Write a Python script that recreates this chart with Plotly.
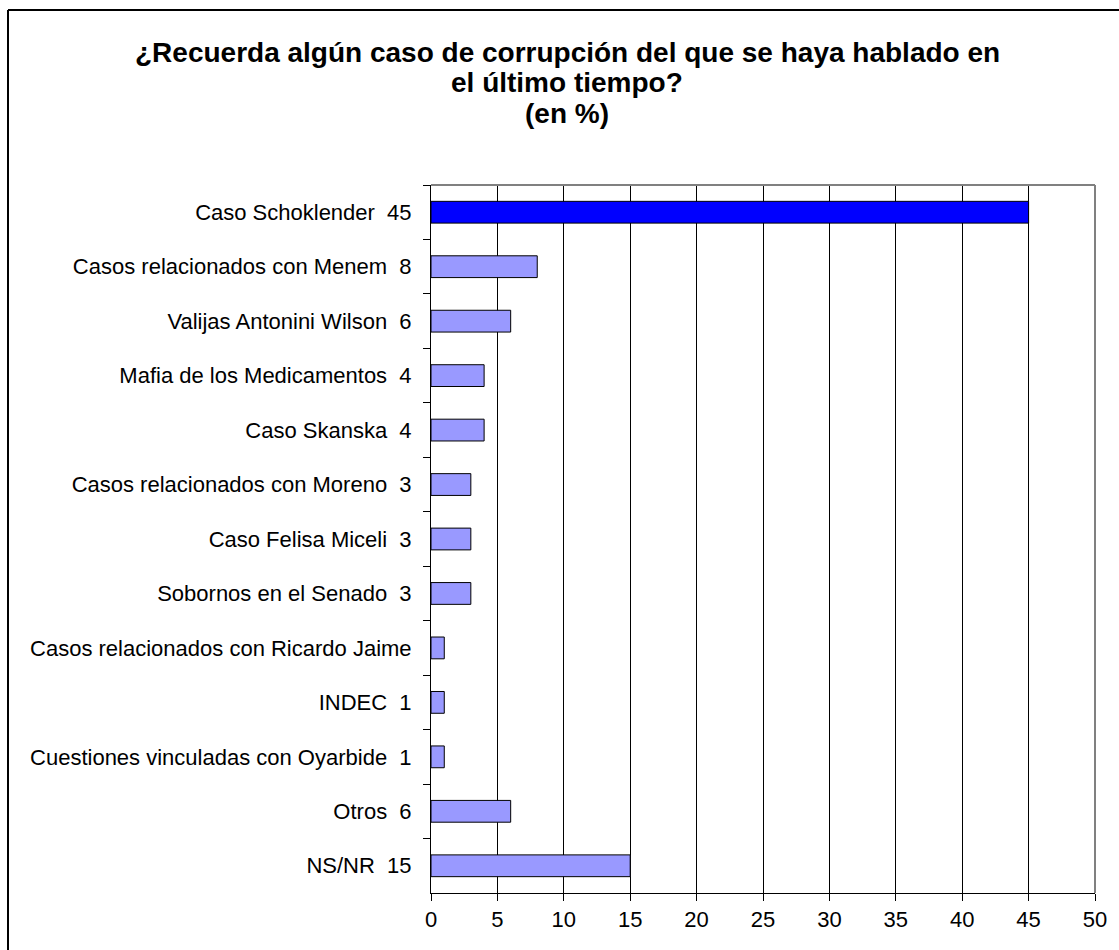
import plotly.graph_objects as go

categorias = [
    "Caso Schoklender  45",
    "Casos relacionados con Menem  8",
    "Valijas Antonini Wilson  6",
    "Mafia de los Medicamentos  4",
    "Caso Skanska  4",
    "Casos relacionados con Moreno  3",
    "Caso Felisa Miceli  3",
    "Sobornos en el Senado  3",
    "Casos relacionados con Ricardo Jaime",
    "INDEC  1",
    "Cuestiones vinculadas con Oyarbide  1",
    "Otros  6",
    "NS/NR  15",
]
valores = [45, 8, 6, 4, 4, 3, 3, 3, 1, 1, 1, 6, 15]
colores = ["#0000FF"] + ["#9999FF"] * (len(valores) - 1)

lineas_titulo = [
    "¿Recuerda algún caso de corrupción del que se haya hablado en",
    "el último tiempo?",
    "(en %)",
]

W, H = 1119, 950
L, R, T, B = 431, 1095, 185, 893

fig = go.Figure(go.Bar(
    x=valores,
    y=categorias,
    orientation="h",
    marker=dict(color=colores, line=dict(color="black", width=1)),
    width=0.4,
))

fig.update_layout(
    width=W,
    height=H,
    margin=dict(l=L, r=W - R, t=T, b=H - B),
    paper_bgcolor="white",
    plot_bgcolor="white",
    font=dict(family="Liberation Sans, Arial", color="black", size=22),
    showlegend=False,
)

# título en tres líneas
for i, txt in enumerate(lineas_titulo):
    fig.add_annotation(
        text="<b>" + txt + "</b>",
        xref="paper", yref="paper",
        x=(567 - L) / (R - L), y=(B - (52 + 31 * i)) / (B - T),
        xanchor="center", yanchor="middle", showarrow=False,
        font=dict(size=28, family="Liberation Sans, Arial", color="black"),
    )

fig.update_xaxes(
    range=[0, 50],
    dtick=5,
    tick0=0,
    showgrid=True,
    gridcolor="black",
    gridwidth=1,
    showline=True,
    linecolor="black",
    linewidth=1,
    ticks="outside",
    ticklen=7,
    tickcolor="black",
    zeroline=False,
    ticklabelstandoff=0,
)
fig.update_yaxes(
    autorange="reversed",
    showline=True,
    linecolor="black",
    linewidth=1,
    ticks="outside",
    tickson="boundaries",
    ticklen=7,
    tickcolor="black",
    showgrid=False,
    ticklabelstandoff=14,
)

# borde gris superior y derecho del área de trazado
fig.add_shape(type="line", xref="paper", yref="paper", x0=0, x1=1, y0=1, y1=1,
              line=dict(color="#808080", width=2))
fig.add_shape(type="line", xref="paper", yref="paper", x0=1, x1=1, y0=0, y1=1,
              line=dict(color="#808080", width=2))

# marco exterior del gráfico
px = lambda v: (v - L) / (R - L)
py = lambda v: (B - v) / (B - T)
fig.add_shape(type="line", xref="paper", yref="paper",
              x0=px(8), x1=px(W + 10), y0=py(10), y1=py(10),
              line=dict(color="black", width=2))
fig.add_shape(type="line", xref="paper", yref="paper",
              x0=px(8), x1=px(8), y0=py(10), y1=py(H + 10),
              line=dict(color="black", width=2))

fig.write_html("out.html", config={"displayModeBar": False},
               post_script="document.body.style.margin='0px';")
